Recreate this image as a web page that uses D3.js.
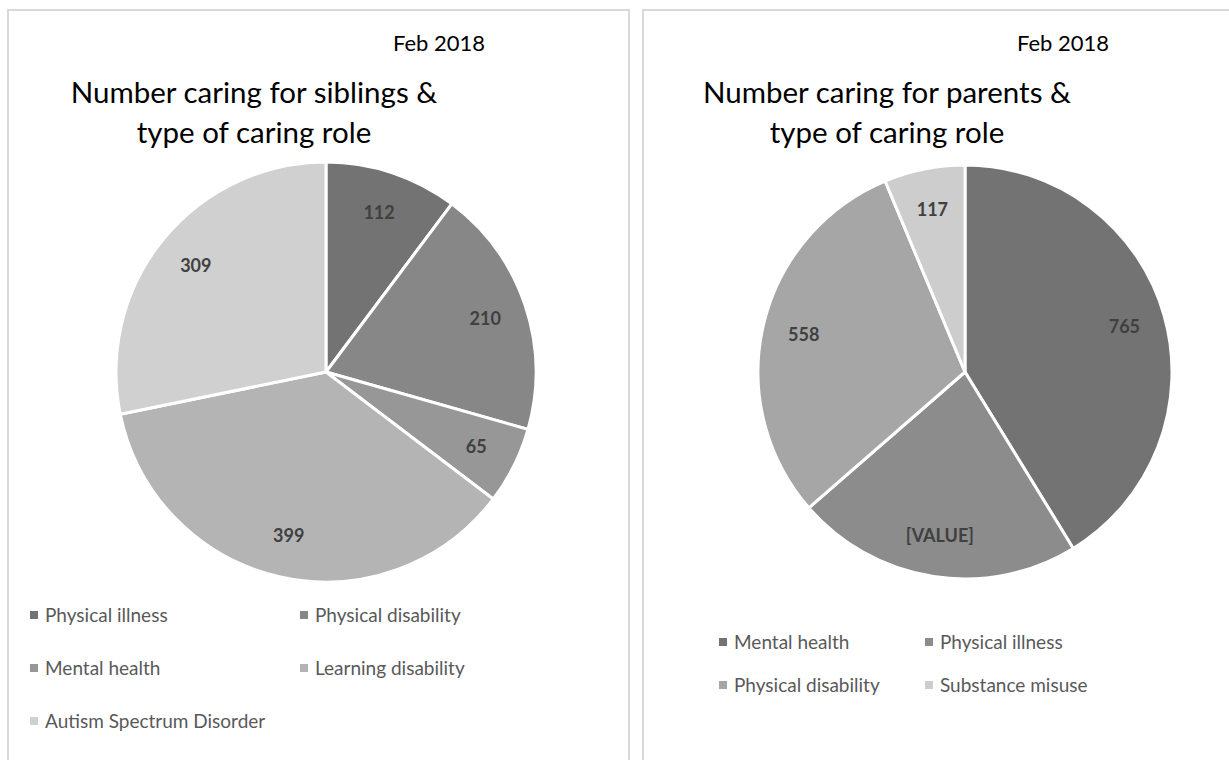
<!DOCTYPE html>
<html>
<head>
<meta charset="utf-8">
<script src="https://cdn.jsdelivr.net/npm/d3@7"></script>
<style>
  body { margin: 0; background: #fff; }
  text { font-family: Lato, "Open Sans", sans-serif; }
</style>
</head>
<body>
<div id="chart-area"></div>
<script>
// data
const siblingCategories = ["Physical illness", "Physical disability", "Mental health", "Learning disability", "Autism Spectrum Disorder"];
const siblingValues = [112, 210, 65, 399, 309];
const siblingLabels = ["112", "210", "65", "399", "309"];
const siblingColors = ["#737373", "#878787", "#979797", "#b4b4b4", "#d0d0d0"];

const parentCategories = ["Mental health", "Physical illness", "Physical disability", "Substance misuse"];
const parentValues = [765, 415, 558, 117];
const parentLabels = ["765", "[VALUE]", "558", "117"];
const parentColors = ["#737373", "#8c8c8c", "#a6a6a6", "#cdcdcd"];

const dateLabel = "Feb 2018";

const width = 1229;
const height = 760;

const svg = d3.select("#chart-area")
    .append("svg")
    .attr("width", width)
    .attr("height", height);

const drawPanel = (p) => {
    const g = svg.append("g");

    // panel frame
    g.append("rect")
        .attr("x", p.x)
        .attr("y", p.y)
        .attr("width", p.w)
        .attr("height", p.h)
        .attr("fill", "none")
        .attr("stroke", "#d9d9d9")
        .attr("stroke-width", 2);

    g.append("text")
        .attr("x", p.dateX)
        .attr("y", 51)
        .attr("text-anchor", "end")
        .attr("font-size", "22px")
        .attr("fill", "#000")
        .text(dateLabel);

    p.title.forEach((line, i) => {
        g.append("text")
            .attr("x", p.titleX)
            .attr("y", 103 + i * 40)
            .attr("text-anchor", "middle")
            .attr("font-size", "29.5px")
            .attr("fill", "#000")
            .text(line);
    });

    const pie = d3.pie().sort(null).value((d) => d.value);
    const arcs = pie(p.categories.map((c, i) => ({ name: c, value: p.values[i], label: p.labels[i] })));

    const color = d3.scaleOrdinal().domain(p.categories).range(p.colors);
    const arc = d3.arc().innerRadius(0).outerRadius(p.r);
    const labelArc = d3.arc().innerRadius(p.r * 0.8).outerRadius(p.r * 0.8);

    const pg = g.append("g")
        .attr("transform", "translate(" + p.cx + ", " + p.cy + ")");

    pg.selectAll("path")
        .data(arcs)
        .enter()
        .append("path")
        .attr("d", arc)
        .attr("fill", (d) => color(d.data.name))
        .attr("stroke", "#fff")
        .attr("stroke-width", 3);

    pg.selectAll("text")
        .data(arcs)
        .enter()
        .append("text")
        .attr("transform", (d) => "translate(" + labelArc.centroid(d) + ")")
        .attr("dy", "0.35em")
        .attr("text-anchor", "middle")
        .attr("font-size", "18px")
        .attr("font-weight", "bold")
        .attr("fill", "#404040")
        .text((d) => d.data.label);

    // legend, two columns
    const lg = g.selectAll(".legend")
        .data(p.categories)
        .enter()
        .append("g")
        .attr("class", "legend")
        .attr("transform", (d, i) => "translate(" + (p.legX + (i % 2) * p.legColW) + ", " + (p.legY + Math.floor(i / 2) * p.legRowH) + ")");

    lg.append("rect")
        .attr("x", 0)
        .attr("y", -4)
        .attr("width", 8)
        .attr("height", 8)
        .attr("fill", (d) => color(d));

    lg.append("text")
        .attr("x", 15)
        .attr("y", 0)
        .attr("dy", "0.35em")
        .attr("font-size", "19px")
        .attr("fill", "#595959")
        .text((d) => d);
};

drawPanel({
    x: 8, y: 10, w: 621, h: 770,
    dateX: 485, titleX: 254,
    title: ["Number caring for siblings &", "type of caring role"],
    categories: siblingCategories, values: siblingValues, labels: siblingLabels, colors: siblingColors,
    cx: 326, cy: 372, r: 210,
    legX: 30, legY: 615, legColW: 270, legRowH: 53
});

drawPanel({
    x: 643, y: 10, w: 620, h: 770,
    dateX: 1109, titleX: 887,
    title: ["Number caring for parents &", "type of caring role"],
    categories: parentCategories, values: parentValues, labels: parentLabels, colors: parentColors,
    cx: 965, cy: 372, r: 207,
    legX: 719, legY: 642, legColW: 206, legRowH: 43
});
</script>
</body>
</html>
